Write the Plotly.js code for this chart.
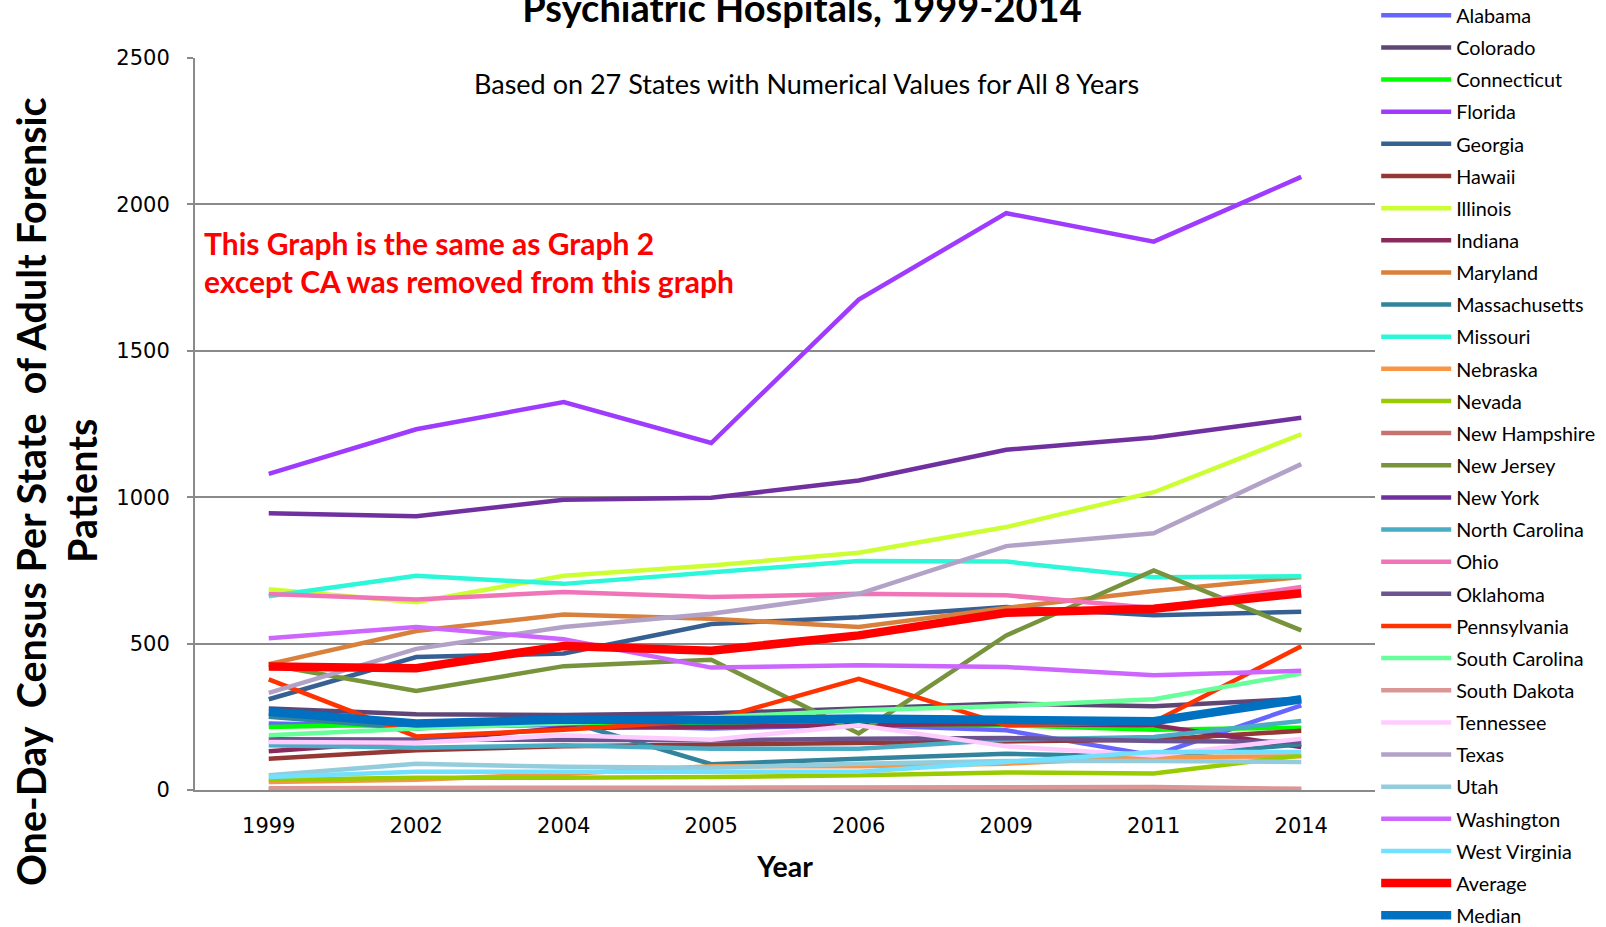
<!DOCTYPE html>
<html>
<head>
<meta charset="utf-8">
<script src="https://cdn.plot.ly/plotly-3.0.1.min.js"></script>
<style>
  html, body { margin: 0; padding: 0; background: #ffffff; }
  #chart { width: 1606px; height: 927px; }
</style>
</head>
<body>
<div id="chart"></div>
<script>
// ---- Data ----
var years = ['1999', '2002', '2004', '2005', '2006', '2009', '2011', '2014'];

var seriesNames = ['Alabama', 'Colorado', 'Connecticut', 'Florida', 'Georgia', 'Hawaii', 'Illinois',
  'Indiana', 'Maryland', 'Massachusetts', 'Missouri', 'Nebraska', 'Nevada', 'New Hampshire',
  'New Jersey', 'New York', 'North Carolina', 'Ohio', 'Oklahoma', 'Pennsylvania',
  'South Carolina', 'South Dakota', 'Tennessee', 'Texas', 'Utah', 'Washington',
  'West Virginia', 'Average', 'Median'];

var alabama       = [227, 218, 222, 210, 222, 204, 118, 289];
var colorado      = [278, 259, 256, 262, 278, 295, 286, 312];
var connecticut   = [215, 225, 230, 228, 226, 221, 206, 213];
var florida       = [1080, 1232, 1325, 1185, 1675, 1970, 1873, 2094];
var georgia       = [310, 454, 466, 567, 590, 625, 597, 609];
var hawaii        = [107, 136, 149, 155, 162, 168, 172, 202];
var illinois      = [686, 641, 732, 767, 810, 898, 1017, 1215];
var indiana       = [132, 168, 212, 215, 222, 225, 221, 147];
var maryland      = [430, 543, 599, 585, 557, 622, 680, 727];
var massachusetts = [250, 210, 238, 88, 107, 124, 113, 156];
var missouri      = [662, 732, 704, 744, 782, 780, 727, 730];
var nebraska      = [27, 35, 55, 81, 81, 90, 113, 115];
var nevada        = [35, 42, 42, 44, 50, 60, 56, 118];
var newHampshire  = [2, 3, 2, 2, 2, 2, 3, 1];
var newJersey     = [428, 338, 423, 445, 193, 528, 750, 545];
var newYork       = [945, 935, 991, 998, 1057, 1162, 1204, 1271];
var northCarolina = [153, 144, 153, 141, 141, 172, 181, 236];
var ohio          = [669, 651, 676, 659, 670, 665, 622, 693];
var oklahoma      = [173, 172, 172, 170, 175, 178, 167, 164];
var pennsylvania  = [378, 183, 206, 238, 380, 221, 232, 491];
var southCarolina = [187, 210, 228, 248, 272, 287, 310, 398];
var southDakota   = [6, 8, 8, 8, 8, 8, 10, 4];
var tennessee     = [164, 161, 187, 172, 221, 149, 118, 175];
var texas         = [332, 482, 557, 602, 670, 833, 877, 1113];
var utah          = [50, 90, 79, 76, 90, 99, 99, 96];
var washington    = [518, 557, 515, 418, 426, 420, 392, 407];
var westVirginia  = [44, 62, 62, 62, 62, 96, 130, 130];
var average       = [422, 416, 492, 476, 528, 605, 619, 672];
var median        = [267, 227, 241, 238, 244, 243, 235, 310];

var seriesValues = [alabama, colorado, connecticut, florida, georgia, hawaii, illinois,
  indiana, maryland, massachusetts, missouri, nebraska, nevada, newHampshire,
  newJersey, newYork, northCarolina, ohio, oklahoma, pennsylvania,
  southCarolina, southDakota, tennessee, texas, utah, washington,
  westVirginia, average, median];

var yTickVals = [0, 500, 1000, 1500, 2000, 2500];

// ---- Styles ----
var seriesColors = ['#6666FF', '#5F4677', '#00FF00', '#9E3BFF', '#376092', '#953735', '#CCFF33',
  '#8A2A5C', '#D8803C', '#31849B', '#2CF7D8', '#F79646', '#99CC00', '#C87270',
  '#77933C', '#7030A0', '#4BACC6', '#F174B8', '#6C5490', '#FF3300',
  '#66FF99', '#D99694', '#FFCCFF', '#B3A2C7', '#93CDDD', '#CC66FF',
  '#72E0FF', '#FF0000', '#0070C0'];

var traces = seriesNames.map(function (name, i) {
  var thick = (name === 'Average' || name === 'Median');
  return {
    type: 'scatter',
    mode: 'lines',
    name: name,
    legendgroup: name,
    x: years,
    y: seriesValues[i],
    line: { color: seriesColors[i], width: thick ? 8.5 : 4.5 },
    hoverinfo: 'x+y+name'
  };
});

var gridGrey = '#8A8A8A';
var textFont = 'Lato, "Open Sans", sans-serif';
var tickFont = '"DejaVu Sans", Verdana, sans-serif';

var layout = {
  width: 1606,
  height: 927,
  paper_bgcolor: '#ffffff',
  plot_bgcolor: '#ffffff',
  margin: { l: 195, r: 231, t: 58, b: 137, pad: 0, autoexpand: false },
  showlegend: true,
  title: {
    text: '<b>Psychiatric Hospitals, 1999-2014</b>',
    font: { family: textFont, size: 38, color: '#000000' },
    xref: 'paper', x: 0.5144, xanchor: 'center',
    yref: 'container', y: 0.9905, yanchor: 'middle'
  },
  xaxis: {
    type: 'category',
    range: [-0.5, 7.5],
    showgrid: false,
    zeroline: false,
    showline: true,
    linecolor: gridGrey,
    linewidth: 2,
    ticks: '',
    ticklabelstandoff: 16,
    tickfont: { family: tickFont, size: 21, color: '#000000' },
    title: {
      text: '<b>Year</b>',
      font: { family: textFont, size: 28.5, color: '#000000' },
      standoff: 20
    }
  },
  yaxis: {
    range: [0, 2500],
    tickvals: yTickVals,
    showgrid: true,
    gridcolor: gridGrey,
    gridwidth: 2,
    zeroline: false,
    showline: true,
    linecolor: gridGrey,
    linewidth: 2,
    ticks: 'outside',
    ticklen: 6,
    tickcolor: gridGrey,
    tickwidth: 2,
    ticklabelstandoff: 13,
    tickfont: { family: tickFont, size: 21, color: '#000000' }
  },
  legend: {
    x: 1.001, xanchor: 'left',
    yref: 'paper', y: 1.0848, yanchor: 'top',
    traceorder: 'grouped',
    tracegroupgap: 3.4,
    itemwidth: 70,
    maxheight: 3000,
    bgcolor: 'rgba(255,255,255,0)',
    borderwidth: 0,
    font: { family: textFont, size: 19.8, color: '#000000' }
  },
  annotations: [
    {
      text: 'Based on 27 States with Numerical Values for All 8 Years',
      xref: 'paper', yref: 'paper', x: 0.5186, y: 0.9645,
      xanchor: 'center', yanchor: 'middle', showarrow: false,
      font: { family: textFont, size: 27, color: '#000000' }
    },
    {
      text: '<b>This Graph is the same as Graph 2</b>',
      xref: 'paper', yref: 'paper', x: 0.006, y: 0.7473,
      xanchor: 'left', yanchor: 'middle', showarrow: false,
      font: { family: textFont, size: 30, color: '#FF0000' }
    },
    {
      text: '<b>except CA was removed from this graph</b>',
      xref: 'paper', yref: 'paper', x: 0.006, y: 0.6954,
      xanchor: 'left', yanchor: 'middle', showarrow: false,
      font: { family: textFont, size: 30, color: '#FF0000' }
    },
    {
      text: '<b>One-Day  Census Per State  of Adult Forensic</b>',
      xref: 'paper', yref: 'paper', x: -0.139, y: 0.4085,
      xanchor: 'center', yanchor: 'middle', textangle: -90, showarrow: false,
      font: { family: textFont, size: 39.5, color: '#000000' }
    },
    {
      text: '<b>Patients</b>',
      xref: 'paper', yref: 'paper', x: -0.0958, y: 0.4085,
      xanchor: 'center', yanchor: 'middle', textangle: -90, showarrow: false,
      font: { family: textFont, size: 39.5, color: '#000000' }
    }
  ]
};

Plotly.newPlot('chart', traces, layout, { displayModeBar: false, responsive: false });
</script>
</body>
</html>
